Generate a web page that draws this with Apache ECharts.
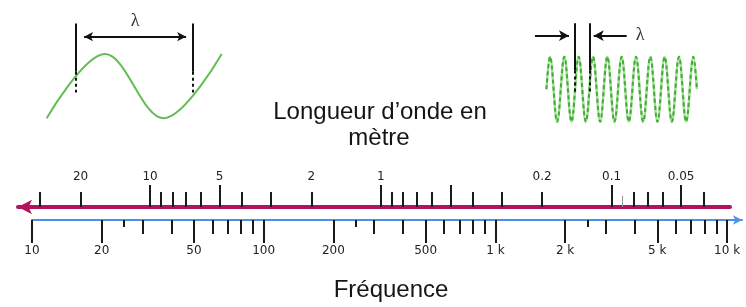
<!DOCTYPE html>
<html>
<head>
<meta charset="utf-8">
<script src="https://cdn.jsdelivr.net/npm/echarts@6/dist/echarts.min.js"></script>
<style>
  html, body { margin: 0; padding: 0; background: #fff; }
  #chart { width: 746px; height: 307px; }
</style>
</head>
<body>
<div id="chart"></div>
<script>
// waves: x in half periods, y = crest (1) / trough (-1)
var leftWaveX = [0, 1, 2, 3];
var leftWaveY = [-1, 1, -1, 1];
var rightWaveX = [-0.5, 0, 1, 2, 3, 4, 5, 6, 7, 8, 9, 10, 11, 12, 13, 14, 15, 16, 17, 18, 19, 20, 20.5];
var rightWaveY = [0, 1, -1, 1, -1, 1, -1, 1, -1, 1, -1, 1, -1, 1, -1, 1, -1, 1, -1, 1, -1, 1, 0];
// where the lambda marks sit on each wave (half periods)
var leftLambda = [0.5, 2.5];
var rightLambda = [3.5, 5.5];

// wavelength scale (m)
var wlLong = [10, 5, 1, 0.5, 0.1, 0.05];
var wlMid = [30, 20, 9, 8, 7, 6, 4, 3, 2, 0.9, 0.8, 0.7, 0.6, 0.4, 0.3, 0.2, 0.08, 0.07, 0.06, 0.04];
var wlFaint = [0.09];
var wlLabels = [20, 10, 5, 2, 1, 0.2, 0.1, 0.05];

// frequency scale (Hz)
var freqMajor = [10, 20, 50, 100, 200, 500, 1000, 2000, 5000, 10000];
var freqLabels = ['10', '20', '50', '100', '200', '500', '1 k', '2 k', '5 k', '10 k'];
var freqMid = [30, 40, 60, 70, 80, 90, 300, 400, 600, 700, 800, 900, 3000, 4000, 6000, 7000, 8000, 9000];
var freqShort = [25, 250, 2500];

var chart = echarts.init(document.getElementById('chart'));

function pairs(xs, ys) {
    return xs.map(function (x, i) { return [x, ys[i]]; });
}

var tickStyle = { color: '#1a1a1a', width: 2 };
var labelFont = { fontFamily: 'DejaVu Sans', fontSize: 12, color: '#222' };
var lambdaFont = { fontFamily: 'Liberation Serif', fontSize: 18, color: '#333' };

function wlAxis(values, len, extra) {
    return Object.assign({
        type: 'log', gridIndex: 2, position: 'top', inverse: true,
        min: 0.03069, max: 37.33,
        axisLine: { show: false, onZero: false },
        axisTick: { show: true, customValues: values, length: len, lineStyle: tickStyle },
        axisLabel: { show: false },
        splitLine: { show: false }
    }, extra || {});
}

function freqAxis(values, len, extra) {
    return Object.assign({
        type: 'log', gridIndex: 3, position: 'bottom',
        min: 10, max: 11600,
        axisLine: { show: false, onZero: false },
        axisTick: { show: true, customValues: values, length: len, lineStyle: tickStyle },
        axisLabel: { show: false },
        splitLine: { show: false }
    }, extra || {});
}

function vline(x, y0, y1, dotted) {
    var p = { coord: [x, y0] };
    if (dotted) p.lineStyle = { type: [3, 3] };
    return [p, { coord: [x, y1] }];
}

var hiddenValue = function (grid, min, max) {
    return { type: 'value', gridIndex: grid, min: min, max: max, show: false, splitLine: { show: false } };
};

var option = {
    animation: false,
    grid: [
        { left: 46.7, width: 175, top: 12.2, height: 109.3 },
        { left: 528.5, width: 168.4, top: 14.45, height: 110.5 },
        { left: 18, right: 16, top: 207, height: 10 },
        { left: 32, right: 4, top: 210, height: 10 }
    ],
    xAxis: [
        hiddenValue(0, 0, 3),
        hiddenValue(1, -3, 20.5),
        wlAxis(wlLong, 22, {
            axisLine: { show: true, onZero: false, lineStyle: { color: '#b3135d', width: 4 }, symbol: ['arrow', 'none'], symbolSize: [11, 14] },
            axisLabel: Object.assign({
                show: true, customValues: wlLabels, margin: 24,
                formatter: function (v) { return String(Number(v.toPrecision(6))); }
            }, labelFont)
        }),
        wlAxis(wlMid, 15),
        wlAxis(wlFaint, 11, { axisTick: { show: true, customValues: wlFaint, length: 11, lineStyle: { color: '#999', width: 1 } } }),
        freqAxis(freqMajor, 23, {
            axisLine: { show: true, onZero: false, lineStyle: { color: '#4f8fec', width: 2 }, symbol: ['none', 'arrow'], symbolSize: [7, 9] },
            axisLabel: Object.assign({
                show: true, customValues: freqMajor, margin: 25,
                formatter: function (v) {
                    for (var i = 0; i < freqMajor.length; i++) {
                        if (Math.abs(freqMajor[i] - v) / freqMajor[i] < 1e-6) return freqLabels[i];
                    }
                    return '';
                }
            }, labelFont)
        }),
        freqAxis(freqMid, 14),
        freqAxis(freqShort, 7)
    ],
    yAxis: [
        hiddenValue(0, -1.1, 2.3),
        hiddenValue(1, -1.1, 2.3),
        hiddenValue(2, 0, 1),
        hiddenValue(3, 0, 1)
    ],
    series: [
        {
            type: 'line', xAxisIndex: 0, yAxisIndex: 0,
            data: pairs(leftWaveX, leftWaveY),
            smooth: 0.36, showSymbol: false, silent: true,
            lineStyle: { color: '#62bd52', width: 2 },
            markLine: {
                silent: true, symbol: 'none', label: { show: false },
                lineStyle: { color: '#111', width: 2, type: 'solid' },
                data: [
                    vline(leftLambda[0], 1.95, 0.45),
                    vline(leftLambda[0], 0.45, -0.2, true),
                    vline(leftLambda[1], 1.95, 0.45),
                    vline(leftLambda[1], 0.45, -0.2, true),
                    [
                        { coord: [leftLambda[0] + 0.14, 1.54], symbol: 'arrow', symbolSize: [7, 9],
                          label: Object.assign({ show: true, position: 'middle', formatter: 'λ', distance: 6 }, lambdaFont) },
                        { coord: [leftLambda[1] - 0.11, 1.54], symbol: 'arrow', symbolSize: [7, 9] }
                    ]
                ]
            }
        },
        {
            type: 'line', xAxisIndex: 1, yAxisIndex: 1,
            data: pairs(rightWaveX, rightWaveY),
            smooth: 0.36, showSymbol: false, silent: true,
            lineStyle: { color: '#a8dc9c', width: 2.5 }
        },
        {
            type: 'line', xAxisIndex: 1, yAxisIndex: 1,
            data: pairs(rightWaveX, rightWaveY),
            smooth: 0.36, showSymbol: false, silent: true,
            lineStyle: { color: '#3fae34', width: 2, type: [4, 3] },
            markLine: {
                silent: true, symbol: 'none', label: { show: false },
                lineStyle: { color: '#111', width: 2, type: 'solid' },
                data: [
                    vline(rightLambda[0], 2.03, 0.575),
                    vline(rightLambda[0], 0.575, -0.08, true),
                    vline(rightLambda[1], 2.03, 0.575),
                    vline(rightLambda[1], 0.575, -0.08, true),
                    [
                        { coord: [-2.1, 1.646] },
                        { coord: [rightLambda[0] - 0.85, 1.646], symbol: 'arrow', symbolSize: [8, 10] }
                    ],
                    [
                        { coord: [10.7, 1.646],
                          label: Object.assign({ show: true, position: 'start', formatter: 'λ', distance: 9 }, lambdaFont) },
                        { coord: [rightLambda[1] + 0.6, 1.646], symbol: 'arrow', symbolSize: [8, 10] }
                    ]
                ]
            }
        }
    ],
    graphic: [
        { type: 'text', x: 380, y: 112.6, silent: true,
          style: { text: 'Longueur d’onde en', font: '24px "Liberation Sans"', fill: '#151515', textAlign: 'center', textVerticalAlign: 'middle' } },
        { type: 'text', x: 379, y: 138.3, silent: true,
          style: { text: 'mètre', font: '24px "Liberation Sans"', fill: '#151515', textAlign: 'center', textVerticalAlign: 'middle' } },
        { type: 'text', x: 391, y: 290.6, silent: true,
          style: { text: 'Fréquence', font: '24px "Liberation Sans"', fill: '#151515', textAlign: 'center', textVerticalAlign: 'middle' } }
    ]
};

chart.setOption(option);
</script>
</body>
</html>
